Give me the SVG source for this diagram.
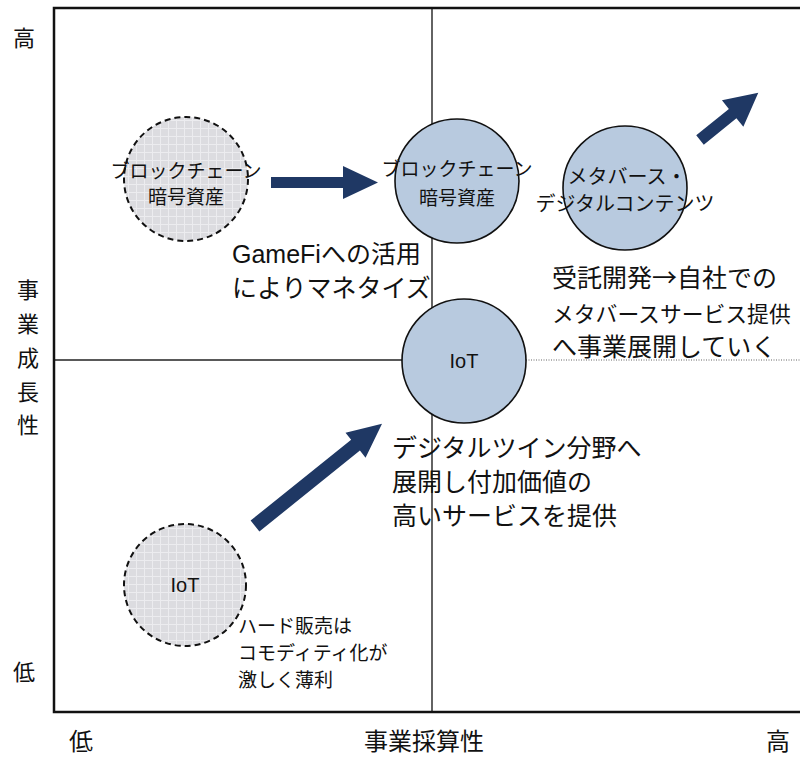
<svg xmlns="http://www.w3.org/2000/svg" width="800" height="758" viewBox="0 0 800 758">
<defs>
<pattern id="grid" width="8" height="8" patternUnits="userSpaceOnUse">
<rect width="8" height="8" fill="#DCDCE0"/>
<path d="M0 0.5H8M0.5 0V8" stroke="#ECECEF" stroke-width="1"/>
</pattern>
<style>
.frame{fill:none;stroke:#111;stroke-width:2.5}
.axis{stroke:#222;stroke-width:1.4;fill:none}
.dot{stroke:#999;stroke-width:1.4;stroke-dasharray:1 1.5;fill:none}
.solid{fill:#B8CADF;stroke:#111;stroke-width:1.6}
.dash{fill:url(#grid);stroke:#111;stroke-width:2;stroke-dasharray:6 4}
.arrow{fill:#1F3864}
text{font-family:"Noto Sans CJK JP","Liberation Sans",sans-serif;fill:#111}
.lat{font-family:"Liberation Sans","Noto Sans CJK JP",sans-serif}
.ax{font-size:22px}
.axb{font-size:24px}
.c{font-size:19px;text-anchor:middle}
.cm{font-size:20px;text-anchor:middle}
.io{font-size:20px;text-anchor:middle}
.big{font-size:25px}
.mid{font-size:19px}
</style>
</defs>
<g id="axes">
<path class="axis" d="M432 8V712"/>
<path class="axis" d="M54 360H464"/>
<path class="dot" d="M526 360H800"/>
<path class="frame" d="M800 8H54V712H800"/>
</g>
<g id="connectors">
<path class="arrow" transform="translate(271,182.5)" d="M0 -5.5H72V-16.5L107 0L72 16.5V5.5H0Z"/>
<path class="arrow" transform="translate(700,140) rotate(-39)" d="M0 -6H42V-17L75 0L42 17V6H0Z"/>
<path class="arrow" transform="translate(255,526) rotate(-38.8)" d="M0 -7H129V-16L163 0L129 16V7H0Z"/>
</g>
<g id="node-blockchain-old">
<circle class="dash" cx="186" cy="179" r="62"/>
<text class="c" x="186" y="178">ブロックチェーン</text>
<text class="c" x="186" y="204">暗号資産</text>
</g>
<g id="node-blockchain-new">
<circle class="solid" cx="457" cy="181" r="62"/>
<text class="c" x="457" y="176">ブロックチェーン</text>
<text class="c" x="457" y="205">暗号資産</text>
</g>
<g id="node-metaverse">
<circle class="solid" cx="625" cy="188" r="62"/>
<text class="cm" x="627" y="184">メタバース・</text>
<text class="cm" x="625" y="211">デジタルコンテンツ</text>
</g>
<g id="node-iot-new">
<circle class="solid" cx="464" cy="361" r="62"/>
<text class="io lat" x="464" y="368">IoT</text>
</g>
<g id="node-iot-old">
<circle class="dash" cx="185" cy="585" r="61"/>
<text class="io lat" x="185" y="592">IoT</text>
</g>
<g id="labels">
<text class="ax" x="13" y="46">高</text>
<text class="ax" x="13" y="680">低</text>
<text class="ax" x="17" y="298">事</text>
<text class="ax" x="17" y="332">業</text>
<text class="ax" x="17" y="366">成</text>
<text class="ax" x="17" y="400">長</text>
<text class="ax" x="17" y="433">性</text>
<text class="axb" x="69" y="750">低</text>
<text class="axb" x="364" y="750">事業採算性</text>
<text class="axb" x="766" y="750">高</text>
<text class="big" x="232" y="263"><tspan class="lat">GameFi</tspan>への活用</text>
<text class="big" x="232" y="297">によりマネタイズ</text>
<text class="big" x="552" y="287">受託開発→自社での</text>
<text x="552" y="322" style="font-size:21.8px">メタバースサービス提供</text>
<text class="big" x="552" y="356">へ事業展開していく</text>
<text class="big" x="392" y="457">デジタルツイン分野へ</text>
<text class="big" x="392" y="491">展開し付加価値の</text>
<text class="big" x="392" y="525">高いサービスを提供</text>
<text class="mid" x="238" y="633">ハード販売は</text>
<text class="mid" x="238" y="660">コモディティ化が</text>
<text class="mid" x="238" y="687">激しく薄利</text>
</g>
</svg>
